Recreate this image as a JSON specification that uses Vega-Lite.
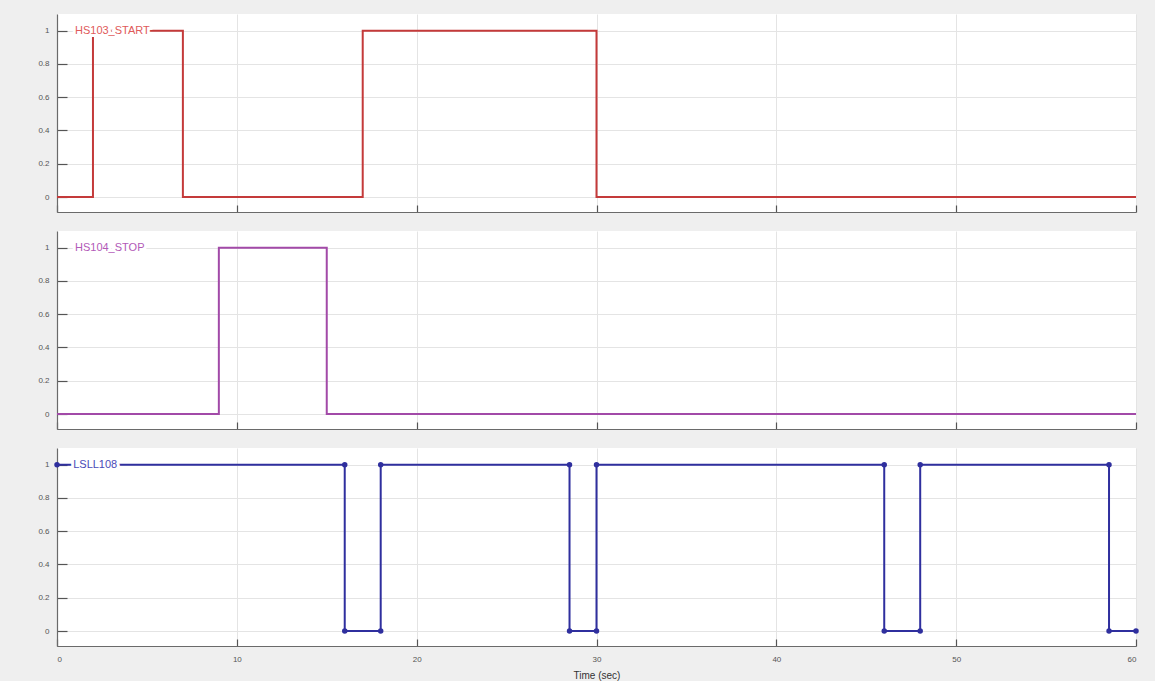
{
  "$schema": "https://vega.github.io/schema/vega-lite/v6.json",
  "padding": {"left": 27, "top": 14, "right": 15, "bottom": 7},
  "background": "#efefef",
  "spacing": 18,
  "config": {
    "view": {"fill": "white", "stroke": null},
    "axis": {
      "domainColor": "#6a6a6a",
      "domainWidth": 1.2,
      "tickColor": "#555555",
      "tickWidth": 1.2,
      "gridColor": "#e4e4e4",
      "gridWidth": 1,
      "labelColor": "#555555",
      "labelFont": "Liberation Sans",
      "labelFontSize": 8,
      "labelOverlap": false,
      "titleFont": "Liberation Sans",
      "titleFontWeight": "normal",
      "titleColor": "#333333"
    },
    "axisY": {"minExtent": 30, "maxExtent": 30}
  },
  "datasets": {
    "red": [
      {"t": 0, "v": 0}, {"t": 2, "v": 1}, {"t": 7, "v": 0}, {"t": 17, "v": 1}, {"t": 30, "v": 0}, {"t": 60, "v": 0}
    ],
    "purple": [
      {"t": 0, "v": 0}, {"t": 9, "v": 1}, {"t": 15, "v": 0}, {"t": 60, "v": 0}
    ],
    "blue": [
      {"i": 1, "t": 0, "v": 1}, {"i": 2, "t": 16, "v": 1}, {"i": 3, "t": 16, "v": 0}, {"i": 4, "t": 18, "v": 0},
      {"i": 5, "t": 18, "v": 1}, {"i": 6, "t": 28.5, "v": 1}, {"i": 7, "t": 28.5, "v": 0}, {"i": 8, "t": 30, "v": 0},
      {"i": 9, "t": 30, "v": 1}, {"i": 10, "t": 46, "v": 1}, {"i": 11, "t": 46, "v": 0}, {"i": 12, "t": 48, "v": 0},
      {"i": 13, "t": 48, "v": 1}, {"i": 14, "t": 58.5, "v": 1}, {"i": 15, "t": 58.5, "v": 0}, {"i": 16, "t": 60, "v": 0}
    ],
    "labels": [
      {"signal": "HS103_START", "t": 1, "v": 1},
      {"signal": "HS104_STOP", "t": 1, "v": 1},
      {"signal": "LSLL108", "t": 0.9, "v": 1}
    ]
  },
  "vconcat": [
    {
      "width": 1079, "height": 198,
      "encoding": {
        "x": {"field": "t", "type": "quantitative", "scale": {"domain": [0, 60], "nice": false, "zero": false},
              "axis": {"values": [0, 10, 20, 30, 40, 50, 60], "labels": false, "tickSize": -7, "title": null, "grid": true}},
        "y": {"field": "v", "type": "quantitative", "scale": {"domain": [-0.09, 1.1], "nice": false, "zero": false},
              "axis": {"values": [0, 0.2, 0.4, 0.6, 0.8, 1], "tickCount": 6, "format": "~g", "tickSize": -10, "labelPadding": 18, "title": null, "grid": true}}
      },
      "layer": [
        {
          "data": {"name": "red"},
          "mark": {"type": "line", "interpolate": "step-after", "color": "#c43a3a", "strokeWidth": 2}
        },
        {
          "data": {"name": "labels"},
          "transform": [{"filter": "datum.signal === 'HS103_START'"}],
          "mark": {"type": "text", "align": "left", "baseline": "middle", "font": "Liberation Sans", "fontSize": 11, "stroke": "white", "strokeWidth": 6, "color": "white"},
          "encoding": {"text": {"field": "signal"}}
        },
        {
          "data": {"name": "labels"},
          "transform": [{"filter": "datum.signal === 'HS103_START'"}],
          "mark": {"type": "text", "align": "left", "baseline": "middle", "font": "Liberation Sans", "fontSize": 11, "color": "#e05a5a"},
          "encoding": {"text": {"field": "signal"}}
        }
      ]
    },
    {
      "width": 1079, "height": 198,
      "encoding": {
        "x": {"field": "t", "type": "quantitative", "scale": {"domain": [0, 60], "nice": false, "zero": false},
              "axis": {"values": [0, 10, 20, 30, 40, 50, 60], "labels": false, "tickSize": -7, "title": null, "grid": true}},
        "y": {"field": "v", "type": "quantitative", "scale": {"domain": [-0.09, 1.1], "nice": false, "zero": false},
              "axis": {"values": [0, 0.2, 0.4, 0.6, 0.8, 1], "tickCount": 6, "format": "~g", "tickSize": -10, "labelPadding": 18, "title": null, "grid": true}}
      },
      "layer": [
        {
          "data": {"name": "purple"},
          "mark": {"type": "line", "interpolate": "step-after", "color": "#a24aa8", "strokeWidth": 2}
        },
        {
          "data": {"name": "labels"},
          "transform": [{"filter": "datum.signal === 'HS104_STOP'"}],
          "mark": {"type": "text", "align": "left", "baseline": "middle", "font": "Liberation Sans", "fontSize": 11, "stroke": "white", "strokeWidth": 6, "color": "white"},
          "encoding": {"text": {"field": "signal"}}
        },
        {
          "data": {"name": "labels"},
          "transform": [{"filter": "datum.signal === 'HS104_STOP'"}],
          "mark": {"type": "text", "align": "left", "baseline": "middle", "font": "Liberation Sans", "fontSize": 11, "color": "#b25ab8"},
          "encoding": {"text": {"field": "signal"}}
        }
      ]
    },
    {
      "width": 1079, "height": 198,
      "encoding": {
        "x": {"field": "t", "type": "quantitative", "scale": {"domain": [0, 60], "nice": false, "zero": false},
              "axis": {"values": [0, 10, 20, 30, 40, 50, 60], "tickSize": -7, "labelPadding": 16, "title": "Time (sec)", "titleFontSize": 10, "titlePadding": -6, "grid": true, "minExtent": 30, "maxExtent": 30}},
        "y": {"field": "v", "type": "quantitative", "scale": {"domain": [-0.09, 1.1], "nice": false, "zero": false},
              "axis": {"values": [0, 0.2, 0.4, 0.6, 0.8, 1], "tickCount": 6, "format": "~g", "tickSize": -10, "labelPadding": 18, "title": null, "grid": true}}
      },
      "layer": [
        {
          "data": {"name": "blue"},
          "mark": {"type": "line", "color": "#2f2f9e", "strokeWidth": 2, "point": {"filled": true, "size": 30, "color": "#2f2f9e"}},
          "encoding": {"order": {"field": "i", "type": "quantitative"}}
        },
        {
          "data": {"name": "labels"},
          "transform": [{"filter": "datum.signal === 'LSLL108'"}],
          "mark": {"type": "text", "align": "left", "baseline": "middle", "font": "Liberation Sans", "fontSize": 11, "stroke": "white", "strokeWidth": 6, "color": "white"},
          "encoding": {"text": {"field": "signal"}}
        },
        {
          "data": {"name": "labels"},
          "transform": [{"filter": "datum.signal === 'LSLL108'"}],
          "mark": {"type": "text", "align": "left", "baseline": "middle", "font": "Liberation Sans", "fontSize": 11, "color": "#4a4ab8"},
          "encoding": {"text": {"field": "signal"}}
        }
      ]
    }
  ]
}
